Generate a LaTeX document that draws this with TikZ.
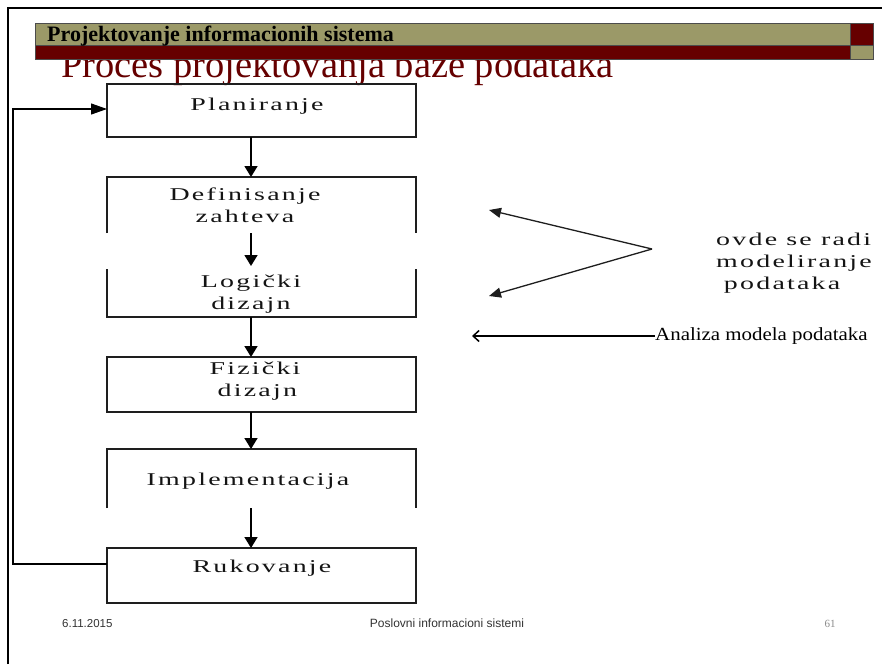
\documentclass[tikz,border=0pt]{standalone}
\usepackage{fontspec}
\usepackage{graphicx}
\usetikzlibrary{arrows.meta}
\newfontfamily\timesfont{Liberation Serif}
\newfontfamily\arialfont{Liberation Sans}
\newfontfamily\spacedfamily{Liberation Serif}[LetterSpace=8]
\newcommand\stepfont{\spacedfamily\fontsize{18}{22}\selectfont}
% wide, letter-spaced lettering of the step labels
\newcommand\widetext[1]{\scalebox{1.55}[1]{#1}}
\newcommand\steplines[2]{\widetext{\begin{tabular}{@{}c@{}}#1\\#2\end{tabular}}}
\definecolor{olivebar}{RGB}{155,153,104}
\definecolor{maroon}{RGB}{102,0,0}
\definecolor{inkgray}{RGB}{30,30,30}
\begin{document}
\begin{tikzpicture}[x=1pt,y=-1pt,
  blk/.style={rectangle, draw=none, minimum width=309pt, inner sep=0pt, outer sep=0pt},
  edge/.style={draw=inkgray, line width=1.3pt},
  flow/.style={draw=black, line width=1.6pt, -{Triangle[length=11pt,width=13pt]}},
  loop/.style={draw=black, line width=1.1pt, -{Triangle[length=16pt,width=11pt]}},
  vflow/.style={draw=inkgray, line width=1.3pt, -{Triangle[length=12pt,width=10pt]}},
  boxtext/.style={font=\stepfont, text=black!92, inner sep=0pt, align=center},
  barline/.style={draw=black!70, line width=0.6pt}
]
\path[use as bounding box, fill=white] (0,0) rectangle (882,664);

% slide title (its top edge runs under the header bars)
\node[anchor=base west, inner sep=0pt, text=maroon, font=\timesfont\fontsize{38.5}{40}\selectfont]
  (title) at (61,77.5) {Proces projektovanja baze podataka};

% header bars
\fill[olivebar] (35,23) rectangle (850,45);
\fill[maroon] (35,45) rectangle (850,59);
\fill[maroon] (850,23) rectangle (873,45);
\fill[olivebar] (850,45) rectangle (873,59);
\draw[barline] (35,23) rectangle (873,59);
\draw[barline] (35,45) -- (873,45);
\draw[barline] (850,23) -- (850,59);
\node[anchor=base west, inner sep=0pt, font=\timesfont\bfseries\fontsize{22}{24}\selectfont]
  (head) at (47,41) {Projektovanje informacionih sistema};

% frame of the slide
\draw[line width=2.2pt] (8,664) -- (8,8) -- (882,8);

% process steps
\node[blk, minimum height=53pt] (plan) at (261.5,110.5) {};
\node[blk, minimum height=56pt] (def)  at (261.5,205) {};
\node[blk, minimum height=48pt] (log)  at (261.5,293) {};
\node[blk, minimum height=55pt] (fiz)  at (261.5,384.5) {};
\node[blk, minimum height=59pt] (impl) at (261.5,478.5) {};
\node[blk, minimum height=55pt] (ruk)  at (261.5,575.5) {};

\draw[edge] (plan.south west) rectangle (plan.north east);
\draw[edge] (def.south west) -- (def.north west) -- (def.north east) -- (def.south east);
\draw[edge] (log.north west) -- (log.south west) -- (log.south east) -- (log.north east);
\draw[edge] (fiz.south west) rectangle (fiz.north east);
\draw[edge] (impl.south west) -- (impl.north west) -- (impl.north east) -- (impl.south east);
\draw[edge] (ruk.south west) rectangle (ruk.north east);

\node[boxtext] (tplan) at (257,106) {\widetext{Planiranje}};
\node[boxtext] (tdef)  at (245,207) {\steplines{Definisanje}{zahteva}};
\node[boxtext] (tlog)  at (251,294) {\steplines{Logički}{dizajn}};
\node[boxtext] (tfiz)  at (255,381) {\steplines{Fizički}{\hspace{3pt}dizajn}};
\node[boxtext] (timpl) at (248,481) {\widetext{Implementacija}};
\node[boxtext] (truk)  at (262,568) {\widetext{Rukovanje}};

% arrows between the steps
\coordinate (ax) at (251,0);
\draw[flow] (plan.south -| ax) -- (def.north -| ax);
\draw[flow] (def.south -| ax) -- ([yshift=3pt]log.north -| ax);
\draw[flow] (log.south -| ax) -- (fiz.north -| ax);
\draw[flow] (fiz.south -| ax) -- (impl.north -| ax);
\draw[flow] (impl.south -| ax) -- (ruk.north -| ax);

% feedback from the last step back to planning
\coordinate (lb) at (13,564);
\coordinate (lt) at (13,109);
\draw[loop] (ruk.west |- lb) -- (lb) -- (lt) -- (plan.west |- lt);

% data modelling note
\coordinate (vtip) at (652,249);
\coordinate (va) at (489,210);
\coordinate (vb) at (489,296);
\draw[vflow] (vtip) -- (va);
\draw[vflow] (vtip) -- (vb);
\node[boxtext, anchor=west] (note) at (716,263)
  {\widetext{\begin{tabular}{@{}l@{}}ovde se radi\\modeliranje\\\hspace{5pt}podataka\end{tabular}}};

% analysis of the data model
\node[anchor=base west, inner sep=0pt, font=\timesfont\fontsize{18.5}{22}\selectfont]
  (ana) at (655,340) {\scalebox{1.13}[1]{Analiza modela podataka}};
\coordinate (aend) at (472,336);
\draw[line width=1.5pt, -{Straight Barb[length=6pt,width=11pt]}] (ana.west |- aend) -- (aend);

% footer
\node[anchor=base west, inner sep=0pt, font=\arialfont\fontsize{11.5}{14}\selectfont, text=black!80]
  (date) at (62,627) {6.11.2015};
\node[anchor=base, inner sep=0pt, font=\arialfont\fontsize{12}{14}\selectfont, text=black!80]
  (foot) at (447,627) {Poslovni informacioni sistemi};
\node[anchor=base, inner sep=0pt, font=\timesfont\fontsize{11}{13}\selectfont, text=black!45]
  (page) at (830,627) {61};
\end{tikzpicture}
\end{document}
